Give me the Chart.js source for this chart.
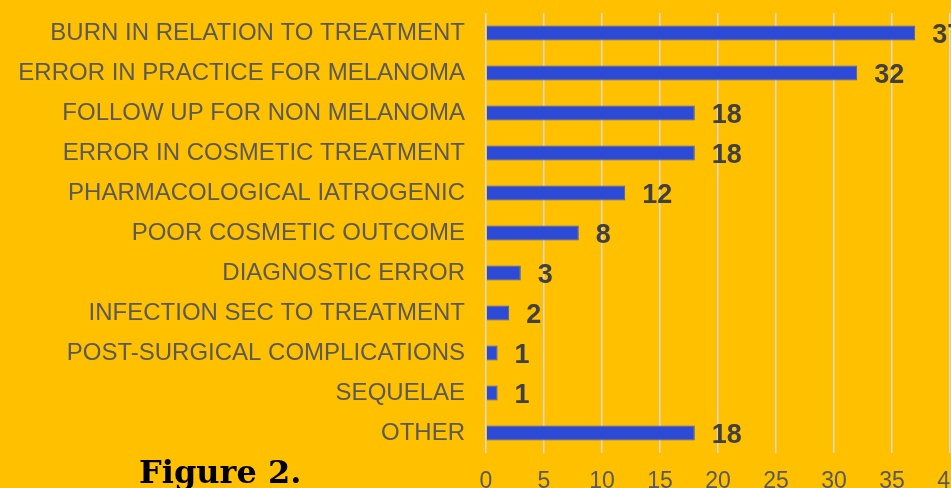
<!DOCTYPE html>
<html>
<head>
<meta charset="utf-8">
<script src="https://cdn.jsdelivr.net/npm/chart.js@4.4.1/dist/chart.umd.min.js"></script>
<style>
  html, body { margin: 0; padding: 0; background: #FFC000; overflow: hidden; }
  #wrap { position: relative; width: 951px; height: 488px; overflow: hidden; background: #FFC000; }
  #chart { position: absolute; left: 0; top: 0; }
  #caption {
    position: absolute; left: 139px; top: 453px;
    font-family: 'DejaVu Serif', serif; font-weight: bold; font-size: 32px;
    color: #000; letter-spacing: 0px;
  }
</style>
</head>
<body>
<div id="wrap">
  <canvas id="chart" width="990" height="488"></canvas>
  <div id="caption">Figure 2.</div>
</div>
<script>
// --- datos ---
const categories = [
  'BURN IN RELATION TO TREATMENT',
  'ERROR IN PRACTICE FOR MELANOMA',
  'FOLLOW UP FOR NON MELANOMA',
  'ERROR IN COSMETIC TREATMENT',
  'PHARMACOLOGICAL IATROGENIC',
  'POOR COSMETIC OUTCOME',
  'DIAGNOSTIC ERROR',
  'INFECTION SEC TO TREATMENT',
  'POST-SURGICAL COMPLICATIONS',
  'SEQUELAE',
  'OTHER'
];
const counts = [37, 32, 18, 18, 12, 8, 3, 2, 1, 1, 18];
const xTicks = [0, 5, 10, 15, 20, 25, 30, 35, 40];

const colors = {
  bg: '#FFC000',
  bar: '#2C4AD6',
  barBorder: '#4A5AAE',
  grid: '#D9D9D9',
  text: '#595959',
  value: '#404040'
};

// etiquetas de valor a la derecha de cada barra
const valueLabels = {
  id: 'valueLabels',
  afterDatasetsDraw(chart) {
    const { ctx } = chart;
    const meta = chart.getDatasetMeta(0);
    ctx.save();
    ctx.font = 'bold 27px "Liberation Sans", Arial, sans-serif';
    ctx.fillStyle = colors.value;
    ctx.textAlign = 'left';
    ctx.textBaseline = 'middle';
    meta.data.forEach((bar, i) => {
      ctx.fillText(String(counts[i]), bar.x + 17, bar.y + 3);
    });
    ctx.restore();
  }
};

new Chart(document.getElementById('chart'), {
  type: 'bar',
  data: {
    labels: categories,
    datasets: [{
      data: counts,
      backgroundColor: colors.bar,
      borderColor: colors.barBorder,
      borderWidth: 1,
      barPercentage: 0.92,
      categoryPercentage: 0.41
    }]
  },
  plugins: [valueLabels],
  options: {
    indexAxis: 'y',
    responsive: false,
    animation: false,
    layout: { padding: { top: 13, right: 40, left: 0, bottom: 0 } },
    plugins: {
      legend: { display: false },
      tooltip: { enabled: false }
    },
    scales: {
      x: {
        min: 0,
        max: 40,
        afterBuildTicks(axis) { axis.ticks = xTicks.map(v => ({ value: v })); },
        afterFit(axis) { axis.height = 35; axis.paddingLeft = 0; axis.paddingRight = 0; },
        grid: { color: colors.grid, lineWidth: 1.5, drawTicks: false },
        border: { display: false },
        ticks: {
          color: colors.text,
          padding: 15,
          font: { family: '"Liberation Sans", Arial, sans-serif', size: 23 }
        }
      },
      y: {
        afterFit(axis) { axis.width = 486; axis.paddingTop = 0; axis.paddingBottom = 0; },
        grid: { display: false, drawTicks: false },
        border: { display: false },
        ticks: {
          color: colors.text,
          padding: 21,
          font: { family: '"Liberation Sans", Arial, sans-serif', size: 24 }
        }
      }
    }
  }
});
</script>
</body>
</html>
